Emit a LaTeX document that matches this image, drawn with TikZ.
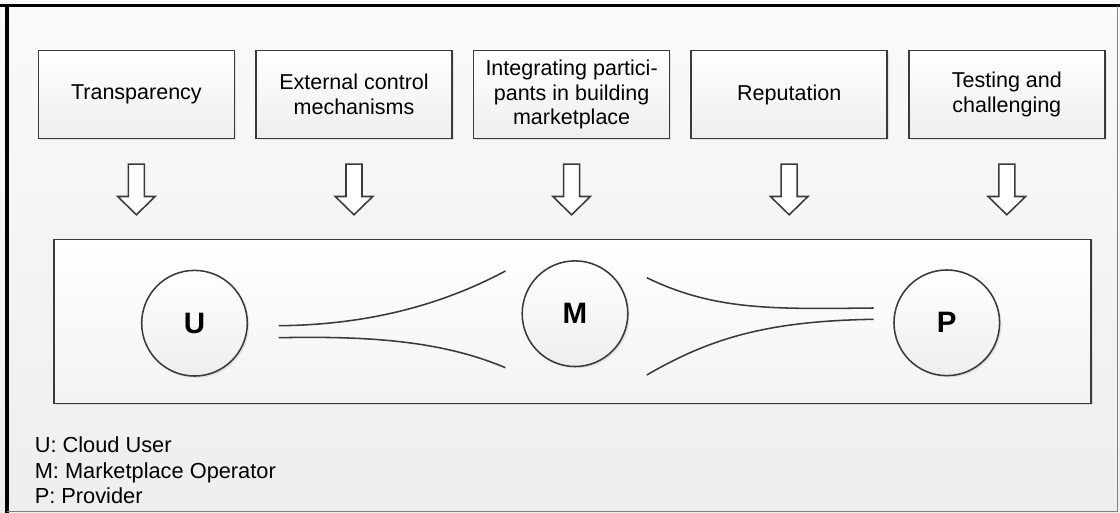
\documentclass[tikz,border=0pt]{standalone}
\usepackage{fontspec}
\setmainfont{Liberation Sans}
\usetikzlibrary{positioning,calc,shadows}

\definecolor{edgegray}{HTML}{3A3A3A}
\definecolor{bgtop}{HTML}{FAFAFA}
\definecolor{bgbot}{HTML}{EEEEEE}

\tikzset{
  factor/.style={draw=edgegray, line width=1.1pt, rectangle, top color=white, bottom color=bgbot,
    minimum width=4.9cm, minimum height=2.19cm, align=center, inner sep=1pt,
    font=\fontsize{15.3}{17.5}\selectfont,
    drop shadow={opacity=0.18, shadow xshift=1.3pt, shadow yshift=-1.3pt}},
  market/.style={draw=edgegray, line width=1.1pt, rectangle, top color=white, bottom color=bgbot!70,
    minimum width=25.92cm, minimum height=4.1cm,
    drop shadow={opacity=0.18, shadow xshift=1.3pt, shadow yshift=-1.3pt}},
  actor/.style={draw=edgegray, line width=1.1pt, circle, top color=white, bottom color=bgbot,
    minimum size=2.64cm, inner sep=0pt, font=\fontsize{21}{25}\selectfont\bfseries,
    drop shadow={opacity=0.18, shadow xshift=1.3pt, shadow yshift=-1.3pt}},
  funnel/.style={draw=edgegray, line width=1.1pt},
  hollow/.style={draw=edgegray, line width=1.1pt, fill=white, line join=miter},
  legend/.style={align=left, inner sep=0pt, font=\fontsize{15.5}{18}\selectfont}
}

\begin{document}
\begin{tikzpicture}[x=0.025cm, y=-0.025cm]
    \useasboundingbox (0,0) rectangle (1120,513);
    \shade[top color=bgtop, bottom color=bgbot] (0,0) rectangle (1120,513);
    % frame of the figure
    \draw[line width=2.6pt, black] (0,5.5) -- (1120,5.5);
    \draw[line width=2.2pt, black] (7,5.5) -- (7,513);
    \draw[line width=0.6pt, gray] (7,511.8) -- (1117,511.8) -- (1117,5.5);

    % trust factors
    \node (t1) [factor] at (136.4,94.5) {Transparency};
    \node (t2) [factor, right=0.5cm of t1] {External control\\mechanisms};
    \node (t3) [factor, right=0.5cm of t2] {Integrating partici-\\pants in building\\marketplace};
    \node (t4) [factor, right=0.5cm of t3] {Reputation};
    \node (t5) [factor, right=0.5cm of t4] {Testing and\\challenging};

    \foreach \t in {t1,t2,t3,t4,t5}
        \draw[hollow] ($(\t.south)+(-8,25)$) -- ++(0,32.4) -- ++(-10.75,0) -- ++(18.75,18.3)
            -- ++(18.75,-18.3) -- ++(-10.75,0) -- ++(0,-32.4) -- cycle;

    % marketplace
    \node (mk) [market] at (572.6,321.3) {};
    \node (u) [actor] at (194.5,323.2) {U};
    \node (m) [actor] at (575,313.7) {M};
    \node (p) [actor] at (946.8,322.8) {P};

    \coordinate (ua) at (278.6,325.7);
    \coordinate (ub) at (278.6,337.7);
    \coordinate (ma) at (505.4,271);
    \coordinate (mb) at (505.4,367.7);
    \coordinate (mc) at (646.8,277.7);
    \coordinate (md) at (646.8,375);
    \coordinate (pa) at (873.6,308);
    \coordinate (pb) at (873.6,319.3);

    \draw[funnel] (ua) .. controls (365,325) and (440,306) .. (ma);
    \draw[funnel] (ub) .. controls (365,336) and (440,340) .. (mb);
    \draw[funnel] (mc) .. controls (715,311) and (775,309) .. (pa);
    \draw[funnel] (md) .. controls (712,337) and (770,321) .. (pb);

    \node (lg) [legend, anchor=west] at (34.5,470.5) {U: Cloud User\\M: Marketplace Operator\\P: Provider};
\end{tikzpicture}
\end{document}
